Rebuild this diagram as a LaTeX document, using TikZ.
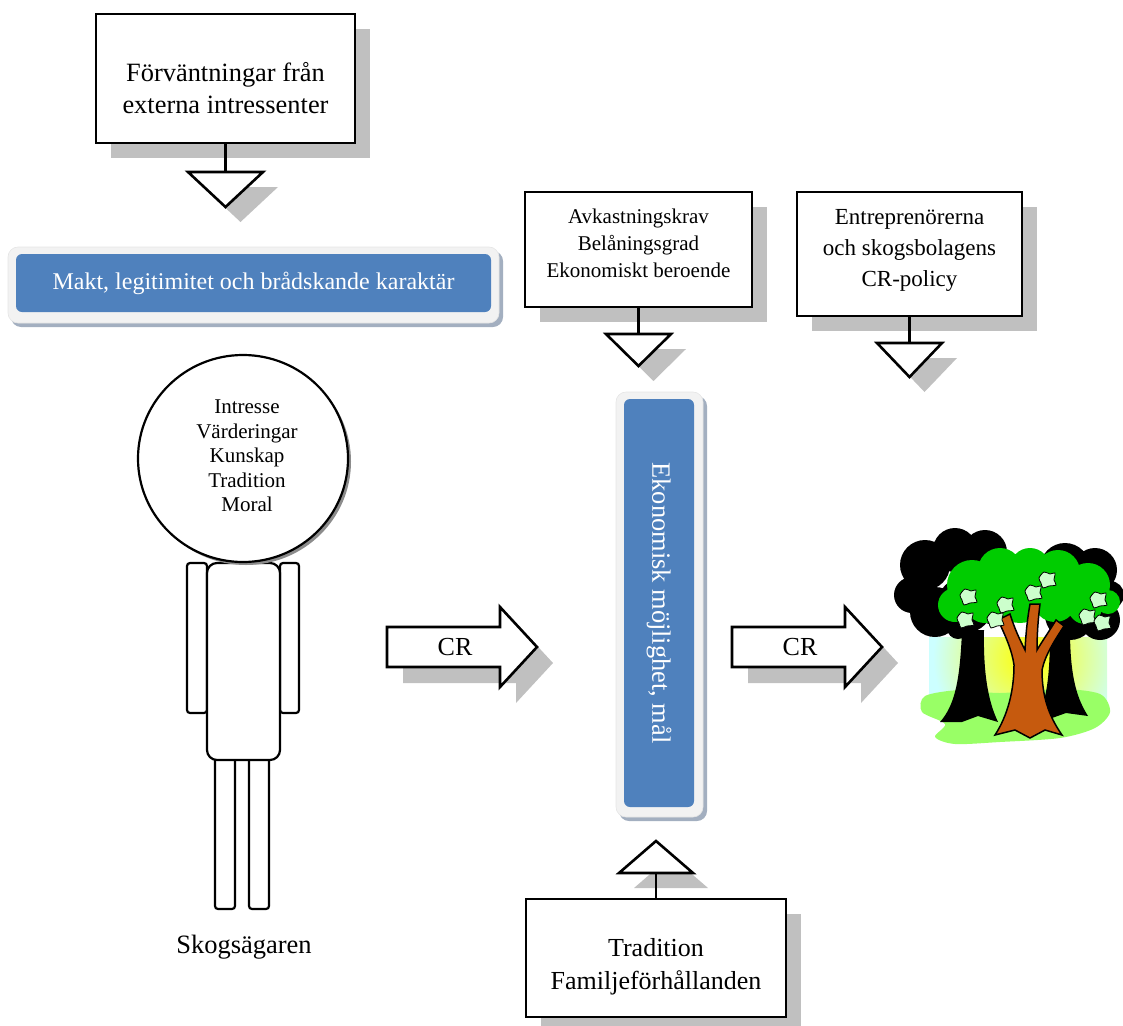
\documentclass[tikz,border=0pt]{standalone}
\usepackage{fontspec}
\setmainfont{Liberation Serif}
\usetikzlibrary{shapes.geometric,calc,shadows}
\definecolor{shgray}{HTML}{C0C0C0}
\definecolor{barblue}{HTML}{4F81BD}
\definecolor{barframe}{HTML}{F2F2F2}
\definecolor{barshade}{HTML}{A3AFC0}
\definecolor{sky}{HTML}{CCFFFF}
\definecolor{grass}{HTML}{99FF66}
\definecolor{leafgreen}{HTML}{00CC00}
\definecolor{leafspot}{HTML}{CCFFCC}
\definecolor{bark}{HTML}{C65A0E}
\begin{document}
\begin{tikzpicture}[x=1pt,y=-1pt,line join=miter,
  tbox/.style={draw=black, line width=2.6pt, fill=white, inner sep=0pt,
    drop shadow={shadow xshift=15pt, shadow yshift=-15pt, fill=shgray, opacity=1}},
  tri/.style={draw=black, line width=2.6pt, fill=white},
  trishadow/.style={fill=shgray},
  conn/.style={draw=black, line width=2.8pt},
  bluebar/.style={fill=barblue, rounded corners=6pt, text=white, inner sep=0pt},
  frame/.style={fill=barframe, draw=black!10, line width=0.6pt, rounded corners=10pt},
  frameshadow/.style={fill=barshade, rounded corners=10pt},
  body/.style={draw=black, line width=2.2pt, fill=white},
  spot/.style={fill=leafspot, draw=black, line width=0.8pt},
  fbig/.style={font=\fontsize{26.4}{32}\selectfont, align=center, inner sep=0pt},
  fmid/.style={font=\fontsize{23}{31}\selectfont, align=center, inner sep=0pt},
  fsmall/.style={font=\fontsize{21}{27}\selectfont, align=center, inner sep=0pt},
  fhead/.style={font=\fontsize{21}{24.5}\selectfont, align=center, inner sep=0pt},
  fcr/.style={font=\fontsize{26}{30}\selectfont, inner sep=0pt}
]
\useasboundingbox (0,0) rectangle (1123,1025);

% ---------- top left box ----------
\node[tbox, minimum width=259pt, minimum height=129pt] (b1) at (225.5,78.5) {};
\node[fbig] (b1t) at ($(b1.center)+(0,9.5)$) {Förväntningar från\\externa intressenter};
\coordinate (t1) at (225.5,172);
\fill[trishadow, shift={(15,15)}] (188,172) -- (263,172) -- (225.5,207) -- cycle;
\draw[conn] (b1.south) -- (t1);
\draw[tri] (188,172) -- (263,172) -- (225.5,207) -- cycle;

% ---------- Makt bar ----------
\fill[frameshadow] (11,251) rectangle (503,327);
\fill[frame] (8,247) rectangle (499,323);
\node[bluebar, minimum width=475pt, minimum height=58pt, font=\fontsize{24}{28}\selectfont] (makt) at (253.5,283) {Makt, legitimitet och brådskande karaktär};

% ---------- box 2 ----------
\node[tbox, minimum width=227pt, minimum height=115pt] (b2) at (638.5,249.5) {};
\node[fsmall] (b2t) at ($(b2.center)+(0,-6.5)$) {Avkastningskrav\\Belåningsgrad\\Ekonomiskt beroende};
\coordinate (t2) at (638.5,334);
\fill[trishadow, shift={(15,15)}] (606,334) -- (671,334) -- (638.5,366) -- cycle;
\draw[conn] (b2.south) -- (t2);
\draw[tri] (606,334) -- (671,334) -- (638.5,366) -- cycle;

% ---------- box 3 ----------
\node[tbox, minimum width=225pt, minimum height=124pt] (b3) at (909.5,254) {};
\node[fmid] (b3t) at ($(b3.center)+(0,-4)$) {Entreprenörerna\\och skogsbolagens\\CR-policy};
\coordinate (t3) at (909.5,343);
\fill[trishadow, shift={(15,15)}] (877,343) -- (942,343) -- (909.5,377) -- cycle;
\draw[conn] (b3.south) -- (t3);
\draw[tri] (877,343) -- (942,343) -- (909.5,377) -- cycle;

% ---------- vertical bar ----------
\fill[frameshadow] (619,396) rectangle (707,821);
\fill[frame] (616,392) rectangle (703,817);
\node[bluebar, rotate=-90, minimum width=408pt, minimum height=70pt, font=\fontsize{26.4}{30}\selectfont] (eko) at (659,603) {Ekonomisk möjlighet, mål};

% ---------- bottom box ----------
\node[tbox, minimum width=260pt, minimum height=118pt] (b4) at (656,958) {};
\node[fbig, font=\fontsize{26}{33}\selectfont] (b4t) at ($(b4.center)+(0,8.5)$) {Tradition\\Familjeförhållanden};
\coordinate (t4) at (656,873);
\fill[trishadow, shift={(15,15)}] (619,873) -- (693,873) -- (656,841) -- cycle;
\draw[conn] (b4.north) -- (t4);
\draw[tri] (619,873) -- (693,873) -- (656,841) -- cycle;

% ---------- CR arrows ----------
\fill[trishadow, shift={(16,16)}] (387,627) -- (500,627) -- (500,607) -- (537,647) -- (500,687) -- (500,667) -- (387,667) -- cycle;
\draw[tri] (387,627) -- (500,627) -- (500,607) -- (537,647) -- (500,687) -- (500,667) -- (387,667) -- cycle;
\node[fcr] (cr1) at (455,647) {CR};
\fill[trishadow, shift={(16,16)}] (732,627) -- (845,627) -- (845,607) -- (882,647) -- (845,687) -- (845,667) -- (732,667) -- cycle;
\draw[tri] (732,627) -- (845,627) -- (845,607) -- (882,647) -- (845,687) -- (845,667) -- (732,667) -- cycle;
\node[fcr] (cr2) at (800,647) {CR};

% ---------- person ----------
\draw[body, rounded corners=3pt] (187,563) rectangle (207,713);
\draw[body, rounded corners=3pt] (280,563) rectangle (299,713);
\draw[body, rounded corners=3pt] (215,752) rectangle (235,909);
\draw[body, rounded corners=3pt] (249,752) rectangle (269,909);
\draw[body, rounded corners=10pt] (207,563) rectangle (280,760);
\node[draw=black, ellipse, line width=2.2pt, fill=white, minimum width=210pt, minimum height=207pt, inner sep=0pt,
  drop shadow={shadow xshift=3pt, shadow yshift=-3pt, fill=black!45, opacity=1}] (head) at (243,458.5) {};
\node[fhead] (headt) at (247,456) {Intresse\\Värderingar\\Kunskap\\Tradition\\Moral};
\node[fcr, font=\fontsize{26.5}{30}\selectfont] (owner) at (244,947) {Skogsägaren};

% ---------- tree clipart ----------
\fill[sky] (929,637) rectangle (1107,710);
\begin{scope}
  \clip (929,637) rectangle (1107,710);
  \shade[inner color=yellow, outer color=sky] (1028,658) circle (95);
\end{scope}
\fill[grass] plot[smooth cycle] coordinates {(925,696) (960,690) (1000,693) (1060,689) (1100,694) (1110,712) (1095,728) (1060,738) (1000,742) (955,744) (935,737) (945,724) (922,712)};
% black trees
\fill[black] (925,565) circle (25) (955,550) circle (22) (985,552) circle (22) (1003,575) circle (14)
  (912,595) circle (18) (935,612) circle (25) (965,605) circle (28) (995,605) circle (20) (958,628) circle (11)
  (1065,568) circle (25) (1095,570) circle (22) (1110,595) circle (14) (1100,620) circle (20)
  (1070,615) circle (25) (1048,600) circle (12);
\fill[black] (962,630) -- (984,630) .. controls (983,680) and (990,705) .. (998,722) -- (978,716) -- (962,722) -- (940,722) .. controls (955,705) and (960,680) .. (962,630) -- cycle;
\fill[black] (1050,630) -- (1070,630) .. controls (1070,680) and (1078,700) .. (1088,716) -- (1066,713) -- (1052,718) -- (1038,716) .. controls (1046,700) and (1050,680) .. (1050,630) -- cycle;
% green canopy
\fill[leafgreen] (972,585) circle (25) (1000,570) circle (22) (1030,568) circle (20) (1058,572) circle (22)
  (1088,585) circle (22) (1108,602) circle (12) (955,605) circle (17) (985,603) circle (20)
  (1020,598) circle (25) (1055,600) circle (22) (1085,607) circle (17);
% brown trunk
\filldraw[fill=bark, draw=black, line width=1.5pt] (995,735) .. controls (1008,715) and (1014,690) .. (1014,665)
  .. controls (1012,650) and (1005,635) .. (998,620) -- (1010,614)
  .. controls (1015,630) and (1020,640) .. (1025,650)
  .. controls (1026,630) and (1028,615) .. (1030,604) -- (1040,604)
  .. controls (1038,620) and (1037,635) .. (1037,650)
  .. controls (1043,640) and (1050,630) .. (1056,620) -- (1064,626)
  .. controls (1055,640) and (1045,655) .. (1042,670)
  .. controls (1042,695) and (1048,715) .. (1062,735) -- (1045,730) -- (1030,738) -- (1015,730) -- cycle;
% light leaf spots
\foreach \p in {(968,597),(965,620),(1005,605),(995,620),(1033,593),(1047,580),(1098,600),(1087,617),(1102,623)}
  \filldraw[spot, shift={\p}] plot[smooth cycle] coordinates {(-8,-2) (-3,-8) (3,-6) (8,-7) (7,0) (9,5) (2,6) (-4,8) (-6,3)};
\end{tikzpicture}
\end{document}
